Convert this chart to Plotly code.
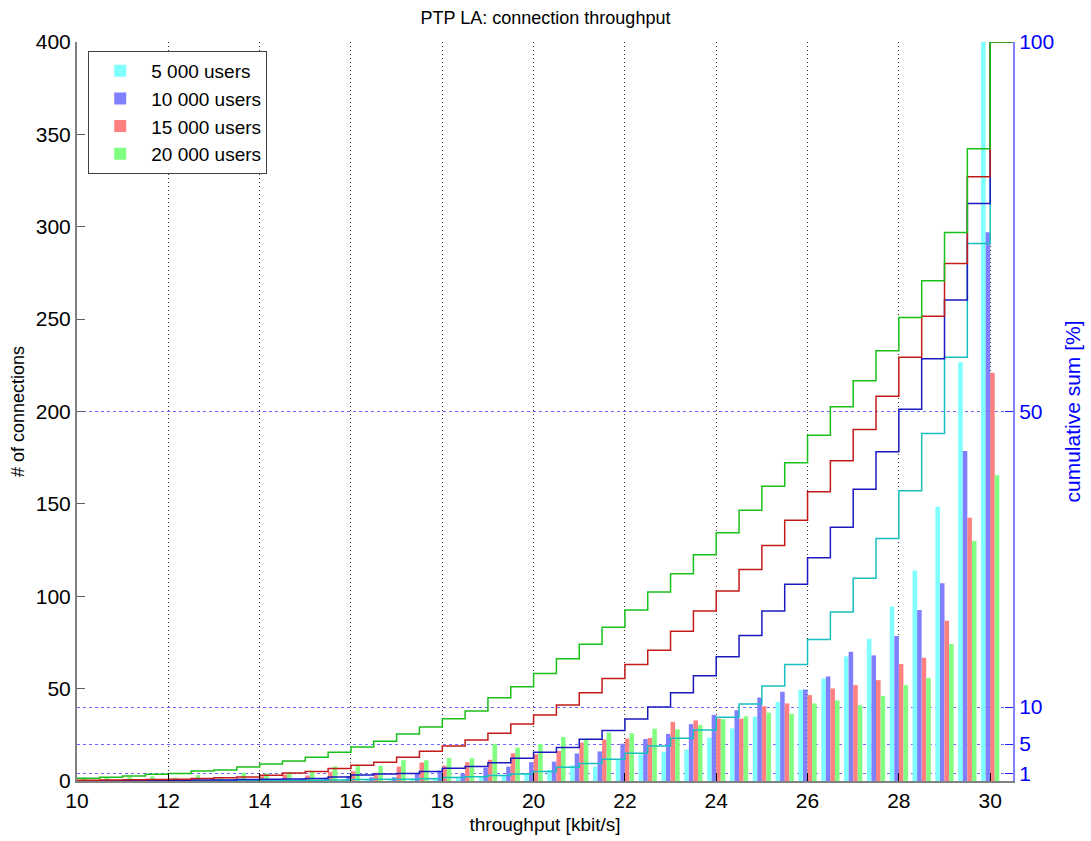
import plotly.graph_objects as go

# throughput bins [kbit/s]
throughput = [10 + 0.5 * i for i in range(41)]

series_names = ["5 000 users", "10 000 users", "15 000 users", "20 000 users"]

# number of connections per bin
conn_5k = [0.1, 0.1, 0.1, 0.1, 0.2, 0.2, 0.2, 0.3, 0.3, 0.4, 0.5, 0.6, 0.8, 0.9, 1.0, 1.3, 1.8,
           2.3, 2.7, 3.1, 4.0, 6.0, 8.5, 7.8, 11.5, 14.4, 15.8, 17.0, 23.5, 28.5, 34.8, 42.8,
           49.4, 55.5, 67.5, 77.0, 94.5, 114.0, 148.5, 226.6, 405.0]
conn_10k = [0.2, 0.1, 0.2, 0.3, 0.3, 0.4, 0.6, 0.6, 0.9, 1.0, 1.3, 1.8, 2.7, 2.0, 2.0, 4.3, 5.5,
            4.0, 7.2, 7.8, 10.2, 10.5, 14.9, 16.0, 20.2, 22.7, 25.5, 30.8, 35.8, 38.3, 45.2,
            48.3, 49.5, 56.6, 70.0, 68.0, 78.5, 92.6, 107.0, 178.6, 297.0]
conn_15k = [0.5, 0.4, 0.6, 0.4, 0.4, 1.4, 1.2, 1.3, 2.6, 3.5, 3.0, 5.0, 5.3, 4.5, 7.8, 10.0, 8.3,
            10.2, 11.5, 15.0, 14.5, 16.3, 20.8, 22.5, 23.0, 23.3, 32.0, 32.8, 33.8, 33.7, 40.4,
            42.0, 46.5, 50.1, 51.9, 54.6, 63.3, 66.7, 86.7, 142.5, 221.0]
conn_20k = [1.8, 1.8, 2.1, 2.5, 1.8, 3.2, 2.2, 4.4, 4.1, 4.8, 5.5, 7.9, 8.0, 8.2, 11.3, 11.2,
            12.4, 12.3, 20.0, 18.0, 20.0, 23.8, 22.3, 26.2, 25.8, 28.3, 28.0, 30.3, 33.5, 35.0,
            37.0, 36.4, 42.0, 43.6, 41.1, 46.0, 51.9, 55.7, 74.1, 129.9, 165.5]

# cumulative sum [%] per bin
cum_5k = [0.01, 0.02, 0.03, 0.03, 0.04, 0.05, 0.06, 0.08, 0.09, 0.1, 0.11, 0.14, 0.2, 0.23,
          0.25, 0.3, 0.48, 0.58, 0.75, 0.95, 1.3, 1.85, 2.38, 2.93, 3.75, 4.75, 5.78, 6.9, 8.63,
          10.43, 12.85, 15.75, 19.15, 22.88, 27.45, 32.83, 39.28, 47.03, 57.33, 72.75, 100]
cum_10k = [0.04, 0.05, 0.06, 0.08, 0.1, 0.13, 0.15, 0.2, 0.23, 0.28, 0.35, 0.53, 0.8, 0.95,
           1.03, 1.28, 1.73, 1.95, 2.48, 3.08, 3.88, 4.55, 5.65, 6.85, 8.38, 10.0, 11.95, 14.25,
           16.83, 19.7, 23.0, 26.63, 30.2, 34.33, 39.48, 44.55, 50.3, 57.13, 65.08, 78.15, 100]
cum_15k = [0.1, 0.13, 0.18, 0.2, 0.23, 0.35, 0.45, 0.55, 0.78, 1.08, 1.28, 1.68, 2.13, 2.53,
           3.2, 4.03, 4.73, 5.55, 6.45, 7.7, 8.93, 10.28, 11.95, 13.88, 15.78, 17.68, 20.25,
           23.0, 25.7, 28.63, 31.88, 35.3, 39.13, 43.33, 47.58, 52.08, 57.33, 62.9, 70.03,
           81.75, 100]
cum_20k = [0.36, 0.5, 0.68, 0.9, 1.03, 1.35, 1.49, 1.9, 2.3, 2.7, 3.2, 3.88, 4.6, 5.38, 6.35,
           7.3, 8.43, 9.48, 11.28, 12.75, 14.53, 16.55, 18.5, 20.8, 23.13, 25.58, 28.05, 30.63,
           33.6, 36.65, 39.9, 43.08, 46.78, 50.65, 54.15, 58.23, 62.73, 67.68, 74.23, 85.55, 100]

x_ticks = [10, 12, 14, 16, 18, 20, 22, 24, 26, 28, 30]
y_ticks = [0, 50, 100, 150, 200, 250, 300, 350, 400]
y2_ticks = [1, 5, 10, 50, 100]

bar_colors = ["#80ffff", "#8080ff", "#ff8080", "#80ff80"]
line_colors = ["#19bfbf", "#1a1ac0", "#c41a1a", "#1ac01a"]

counts = [conn_5k, conn_10k, conn_15k, conn_20k]
cums = [cum_5k, cum_10k, cum_15k, cum_20k]
for arr in counts + cums:
    assert len(arr) == len(throughput)

bin_w = 0.5
bar_w = 0.1
offsets = [-0.2, -0.1, 0.0, 0.1]

fig = go.Figure()
for name, vals, col, off in zip(series_names, counts, bar_colors, offsets):
    fig.add_trace(go.Bar(
        x=throughput, y=vals, name=name, width=bar_w, offset=off,
        marker=dict(color=col, line=dict(width=0)),
        yaxis="y", hoverinfo="x+y+name",
    ))

edges = throughput + [throughput[-1] + bin_w]
for name, cum, col in zip(series_names, cums, line_colors):
    fig.add_trace(go.Scatter(
        x=edges, y=cum + [cum[-1]], mode="lines", line=dict(color=col, width=1.5, shape="hv"),
        yaxis="y2", showlegend=False, name=name,
    ))

font_family = "Liberation Sans, Arial, sans-serif"
fig.update_layout(
    width=1091, height=841,
    margin=dict(l=77, r=78, t=42, b=60, autoexpand=False),
    paper_bgcolor="white", plot_bgcolor="white",
    font=dict(family=font_family, size=20, color="black"),
    barmode="overlay",
    title=dict(text="PTP LA: connection throughput", x=0.5, xanchor="center",
               y=1 - 18 / 841, yref="container", yanchor="middle",
               font=dict(size=18, color="black")),
    xaxis=dict(
        range=[10, 30.5], tickvals=x_ticks, ticks="inside", ticklen=8, tickcolor="black",
        showline=True, linecolor="#808080", linewidth=2, mirror=False,
        showgrid=True, gridcolor="#333333", griddash="1px,3px", gridwidth=1,
        zeroline=False, tickfont=dict(size=21), automargin=False,
        title=dict(text="throughput [kbit/s]", font=dict(size=19), standoff=6),
    ),
    yaxis=dict(
        range=[0, 400], tickvals=y_ticks, ticks="inside", ticklen=8, tickcolor="#606060",
        showline=True, linecolor="#808080", linewidth=2, showgrid=False, zeroline=False,
        tickfont=dict(size=21), automargin=False,
        title=dict(text="# of connections", font=dict(size=18), standoff=6),
    ),
    yaxis2=dict(
        range=[0, 100], tickvals=y2_ticks, overlaying="y", side="right",
        ticks="inside", ticklen=8, tickcolor="#2020ff",
        showline=True, linecolor="#8080ff", linewidth=2,
        showgrid=True, gridcolor="#6a6aff", griddash="dot", gridwidth=1, zeroline=False,
        tickfont=dict(size=21, color="#0000ff"), automargin=False,
        title=dict(text="cumulative sum [%]", font=dict(size=21, color="#0000ff"), standoff=12),
    ),
    legend=dict(
        x=0.012, y=0.988, xanchor="left", yanchor="top",
        bgcolor="white", bordercolor="#404040", borderwidth=1,
        font=dict(size=19), tracegroupgap=0, itemwidth=52,
    ),
    hovermode="closest",
)

fig.write_html("out.html")
